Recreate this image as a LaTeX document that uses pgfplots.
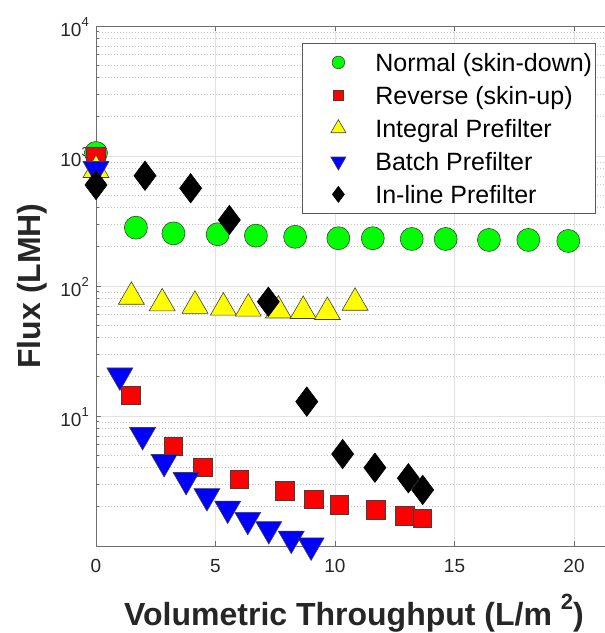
\documentclass[border=0pt]{standalone}
\usepackage{pgfplots}
\pgfplotsset{compat=1.18}
\usepackage{fontspec}
\setmainfont{Liberation Sans}
\definecolor{axc}{HTML}{6E6E6E}
\definecolor{txc}{HTML}{262626}
\definecolor{gridc}{HTML}{E2E2E2}
\definecolor{mgridc}{HTML}{C4C4C4}
\definecolor{mgreen}{HTML}{00FF00}
\definecolor{mred}{HTML}{FF0000}
\definecolor{myellow}{HTML}{FFFF00}
\definecolor{mblue}{HTML}{0000FF}
\newcommand\tp[1]{10\raisebox{10pt}{\fontsize{13}{13}\selectfont #1}}
\begin{document}
\begin{tikzpicture}[x=1pt,y=1pt]
\begin{axis}[
  at={(96pt,87pt)}, anchor=south west,
  scale only axis, width=516pt, height=520pt,
  xmin=0, xmax=21.59, ymode=log, ymin=1, ymax=10000,
  xtick={0,5,10,15,20},
  xticklabels={0,5,10,15,20},
  ytick={10,100,1000,10000},
  yticklabels={\tp{1},\tp{2},\tp{3},\tp{4}},
  minor ytick={2,3,4,5,6,7,8,9,20,30,40,50,60,70,80,90,200,300,400,500,600,700,800,900,2000,3000,4000,5000,6000,7000,8000,9000},
  xmajorgrids, ymajorgrids, yminorgrids,
  major grid style={draw=gridc, line width=0.8pt},
  minor grid style={draw=mgridc, line width=0.8pt, dash pattern=on 1pt off 2pt},
  axis line style={draw=axc, line width=0.9pt},
  every tick/.style={draw=axc, line width=0.9pt},
  major tick length=5pt, minor tick length=3pt,
  tick align=inside,
  tick label style={font=\fontsize{19}{19}\selectfont, text=txc},
  xticklabel style={yshift=-9.5pt},
  yticklabel style={xshift=-3.7pt, yshift=-1.3pt},
  xlabel={Volumetric Throughput (L/m \raisebox{16pt}{\fontsize{22}{22}\selectfont 2})},
  xlabel style={font=\fontsize{32}{32}\selectfont\bfseries, text=txc, at={(axis description cs:0.5,0)}, anchor=base, yshift=-79pt},
  ylabel={Flux (LMH)},
  ylabel style={font=\fontsize{32}{32}\selectfont\bfseries, text=txc, at={(axis description cs:-0.1085,0.5)}, anchor=base},
  clip=false,
  legend cell align=left,
  legend image code/.code={\path[draw=none,fill=none] (0pt,-12pt) rectangle (70pt,12pt); \draw[#1] plot coordinates {(33pt,0pt)};},
  legend style={at={(axis description cs:0.3992,0.9673)}, anchor=north west,
    draw=black!65, line width=0.8pt, fill=white,
    font=\fontsize{25}{25}\selectfont, text=black,
    inner xsep=3pt, inner ysep=7pt, row sep=9pt, column sep=0pt,
    nodes={draw=none, fill=none, inner sep=0pt, text height=21pt, text depth=3pt}},
]
\addplot[only marks, mark=*, mark size=11.5pt, mark options={fill=mgreen, draw=black!75, line width=0.6pt}, legend image post style={mark size=6.3pt}]
coordinates {(0,1055) (1.67,281) (3.24,254) (5.09,250) (6.69,244) (8.33,239) (10.14,233) (11.58,233) (13.21,230) (14.63,230) (16.44,226) (18.09,226) (19.76,222)};
\addlegendentry{Normal (skin-down)}
\addplot[only marks, mark=square*, mark size=9.3pt, mark options={fill=mred, draw=black!75, line width=0.6pt}, legend image post style={mark size=5.3pt}]
coordinates {(0,982) (1.46,14.45) (3.24,5.83) (4.46,4.02) (6.00,3.25) (7.91,2.66) (9.12,2.29) (10.18,2.07) (11.70,1.89) (12.93,1.70) (13.65,1.63)};
\addlegendentry{Reverse (skin-up)}
\addplot[only marks, mark=triangle*, mark size=15pt, mark options={fill=myellow, draw=black!75, line width=0.6pt}, legend image post style={mark size=8.7pt}]
coordinates {(0,780) (1.48,82.6) (2.77,73.5) (4.14,70.4) (5.33,68.2) (6.37,66.9) (7.63,64.8) (8.67,64.2) (9.68,63.1) (10.84,74.3)};
\addlegendentry{Integral Prefilter}
\addplot[only marks, mark=triangle*, mark size=15pt, mark options={rotate=180, fill=mblue, draw=black!75, line width=0.6pt}, legend image post style={mark size=8.7pt}]
coordinates {(0,794) (1.00,20.5) (1.95,7.14) (2.85,4.43) (3.77,3.22) (4.64,2.42) (5.51,1.94) (6.35,1.59) (7.23,1.35) (8.17,1.14) (9.00,1.01)};
\addlegendentry{Batch Prefilter}
\addplot[only marks, mark=diamond*, mark size=14.7pt, mark options={fill=black, draw=black, line width=0.6pt}, legend image post style={mark size=8pt}]
coordinates {(0,598) (2.05,705) (3.96,565) (5.58,322) (7.21,75.7) (8.82,12.9) (10.32,5.1) (11.67,4.0) (13.07,3.32) (13.67,2.70)};
\addlegendentry{In-line Prefilter}
\end{axis}
\pgfresetboundingbox
\path (0,0) rectangle (605,633);
\end{tikzpicture}
\end{document}
